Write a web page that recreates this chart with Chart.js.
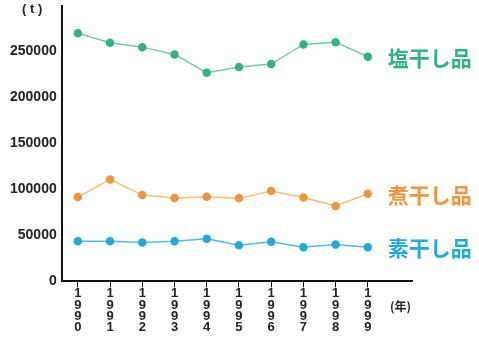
<!DOCTYPE html>
<html>
<head>
<meta charset="utf-8">
<script src="https://cdn.jsdelivr.net/npm/chart.js@4/dist/chart.umd.min.js"></script>
<style>
    html, body { margin: 0; padding: 0; background: #fff; }
    #wrap { width: 479px; height: 337px; position: relative; }
</style>
</head>
<body>
<div id="wrap"><canvas id="c"></canvas></div>
<script>
// 年と各品目の生産量 (t)
const years = [1990, 1991, 1992, 1993, 1994, 1995, 1996, 1997, 1998, 1999];
const enboshi = [269800, 259400, 254700, 246800, 226900, 233000, 236300, 257600, 260100, 244200];
const niboshi = [91600, 110800, 93800, 90600, 92000, 90200, 98100, 91200, 81900, 95200];
const suboshi = [43600, 43600, 42200, 43600, 46200, 39300, 42900, 37100, 40000, 37100];
const seriesNames = ['塩干し品', '煮干し品', '素干し品'];
const yTicks = [0, 50000, 100000, 150000, 200000, 250000];

const colors = [
    { point: '#2fb18c', line: '#72c9aa' },
    { point: '#f39438', line: '#f8bd74' },
    { point: '#1eaadf', line: '#4cbde6' }
];

function makeSet(name, values, c) {
    return {
        label: name,
        data: years.map((y, i) => ({ x: y, y: values[i] })),
        borderColor: c.line,
        backgroundColor: c.point,
        pointBackgroundColor: c.point,
        pointBorderColor: c.point,
        pointRadius: 3.5,
        borderWidth: 1.5,
        tension: 0
    };
}

// 右側の系列名と単位
const labelPlugin = {
    id: 'labels',
    afterDatasetsDraw(chart) {
        const ctx = chart.ctx;
        ctx.save();
        ctx.font = 'bold 21px "Noto Sans CJK JP"';
        ctx.textBaseline = 'middle';
        ctx.textAlign = 'left';
        chart.data.datasets.forEach((ds, i) => {
            const meta = chart.getDatasetMeta(i);
            const last = meta.data[meta.data.length - 1];
            ctx.fillStyle = colors[i].point;
            ctx.fillText(ds.label, last.x + 20, last.y + 1);
        });
        ctx.fillStyle = '#222';
        ctx.font = 'bold 13px "Liberation Sans"';
        ctx.fillText('( t )', 22, 9);
        ctx.font = 'bold 12px "Noto Sans CJK JP"';
        ctx.fillText('(年)', 390, 306);
        ctx.restore();
    }
};

new Chart(document.getElementById('c'), {
    type: 'line',
    data: {
        datasets: [
            makeSet(seriesNames[0], enboshi, colors[0]),
            makeSet(seriesNames[1], niboshi, colors[1]),
            makeSet(seriesNames[2], suboshi, colors[2])
        ]
    },
    options: {
        responsive: true,
        maintainAspectRatio: false,
        animation: false,
        layout: {
            padding: { top: 3, right: 67, bottom: 3, left: 5 }
        },
        plugins: {
            legend: { display: false },
            tooltip: { enabled: false }
        },
        scales: {
            x: {
                type: 'linear',
                min: 1989.5,
                max: 2000.37,
                afterBuildTicks: (axis) => {
                    axis.ticks = years.map(v => ({ value: v }));
                },
                border: { color: '#111', width: 2 },
                grid: { display: true, drawOnChartArea: false, tickLength: 6, color: '#111', tickWidth: 1 },
                ticks: {
                    color: '#222',
                    padding: 1,
                    maxRotation: 0,
                    autoSkip: false,
                    font: { family: '"Liberation Sans Narrow", "Liberation Sans"', size: 13, weight: 'bold', lineHeight: 0.86 },
                    callback: (v) => String(v).split('')
                }
            },
            y: {
                min: 0,
                max: 300000,
                afterBuildTicks: (axis) => {
                    axis.ticks = yTicks.map(v => ({ value: v }));
                },
                afterFit: (axis) => {
                    axis.paddingTop = 0;
                },
                border: { color: '#111', width: 2 },
                grid: { display: false, drawTicks: false },
                ticks: {
                    color: '#222',
                    padding: 5,
                    font: { family: 'Liberation Sans', size: 14, weight: 'bold' },
                    callback: (v) => String(v)
                }
            }
        }
    },
    plugins: [labelPlugin]
});
</script>
</body>
</html>
